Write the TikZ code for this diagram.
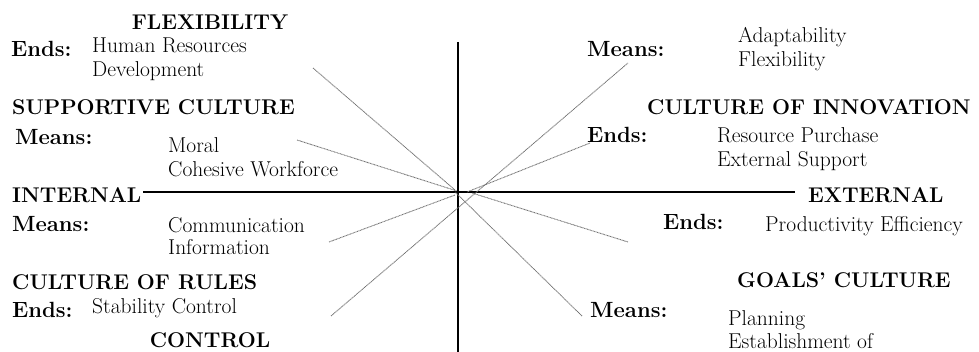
\documentclass[tikz,border=0pt]{standalone}
\usepackage{fontspec}
\begin{document}
\begin{tikzpicture}[x=1pt,y=-1pt,
  title/.style={inner sep=0pt,font=\fontsize{21.3}{24}\selectfont\bfseries},
  lbl/.style={inner sep=0pt,anchor=base west,font=\fontsize{22}{25}\selectfont\bfseries},
  txt/.style={inner sep=0pt,anchor=base west,font=\fontsize{21.5}{24}\selectfont},
  axis/.style={line width=1.6pt,black},
  ray/.style={black!55,line width=0.9pt,dash pattern=on 0.9pt off 0.6pt}]
\useasboundingbox (0,0) rectangle (979,352);
% titles
\node[title,anchor=base] (flex) at (210,30) {FLEXIBILITY};
\node[title,anchor=base west] (supp) at (12,115) {SUPPORTIVE CULTURE};
\node[title,anchor=base west] (internal) at (12,203) {INTERNAL};
\node[title,anchor=base west] (rules) at (12,290) {CULTURE OF RULES};
\node[title,anchor=base] (control) at (210,347) {CONTROL};
\node[title,anchor=base west] (innov) at (647,115) {CULTURE OF INNOVATION};
\node[title,anchor=base west] (external) at (808,203) {EXTERNAL};
\node[title,anchor=base west] (goals) at (737,288) {GOALS’ CULTURE};
% labels
\node[lbl] (l1) at (11,57) {Ends:};
\node[lbl] (l2) at (15,145) {Means:};
\node[lbl] (l3) at (12,232) {Means:};
\node[lbl] (l4) at (12,317) {Ends:};
\node[lbl] (l5) at (587,57) {Means:};
\node[lbl] (l6) at (587,143) {Ends:};
\node[lbl] (l7) at (663,230) {Ends:};
\node[lbl] (l8) at (590,317) {Means:};
% texts
\node[txt] (t1) at (92,53) {Human Resources};
\node[txt] (t2) at (92,77) {Development};
\node[txt] (t3) at (168,153) {Moral};
\node[txt] (t4) at (168,177) {Cohesive Workforce};
\node[txt] (t5) at (168,233) {Communication};
\node[txt] (t6) at (168,255) {Information};
\node[txt] (t7) at (92,313) {Stability Control};
\node[txt] (t8) at (738,43) {Adaptability};
\node[txt] (t9) at (738,67) {Flexibility};
\node[txt] (t10) at (717,143) {Resource Purchase};
\node[txt] (t11) at (717,167) {External Support};
\node[txt] (t12) at (765,232) {Productivity Efficiency};
\node[txt] (t13) at (728,325) {Planning};
\node[txt] (t14) at (728,348) {Establishment of};
% axes
\coordinate (vtop) at (458,42);
\coordinate (vbot) at (458,352);
\coordinate (hl) at (143,192);
\coordinate (hr) at (795,192);
\draw[axis] (vtop) -- (vbot);
\draw[axis] (hl) -- (hr);
% rays
\coordinate (r1a) at (313,68);  \coordinate (r1b) at (455,190);
\coordinate (r2a) at (297,140); \coordinate (r2b) at (457,191);
\coordinate (r3a) at (329,242); \coordinate (r3b) at (455,195);
\coordinate (r4a) at (331,316); \coordinate (r4b) at (628,63);
\coordinate (r5a) at (590,143); \coordinate (r5b) at (467,192);
\coordinate (r6a) at (628,242); \coordinate (r6b) at (472,193);
\coordinate (r7a) at (582,316); \coordinate (r7b) at (455,192);
\draw[ray] (r1a) -- (r1b);
\draw[ray] (r2a) -- (r2b);
\draw[ray] (r3a) -- (r3b);
\draw[ray] (r4a) -- (r4b);
\draw[ray] (r5a) -- (r5b);
\draw[ray] (r6a) -- (r6b);
\draw[ray] (r7a) -- (r7b);
\end{tikzpicture}
\end{document}
